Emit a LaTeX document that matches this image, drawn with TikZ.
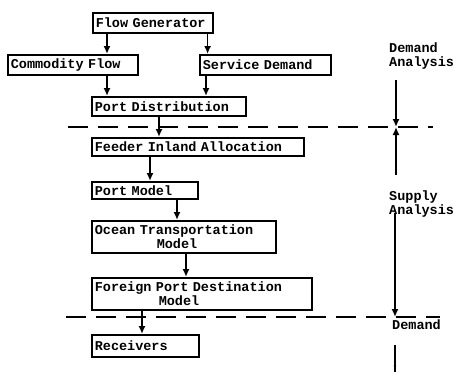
\documentclass[tikz,border=0pt]{standalone}
\usepackage{fontspec}
\usepackage{tikz}
\usetikzlibrary{arrows.meta}
\newfontfamily\monofont{Liberation Mono}

\begin{document}
\begin{tikzpicture}[
  x=1pt, y=-1pt,
  box/.style={
    draw, line width=1.6pt,
    inner xsep=3pt, inner ysep=0pt,
    anchor=north west, align=left,
    font=\monofont\bfseries\fontsize{13.5}{14}\selectfont,
  },
  lbl/.style={anchor=north west, align=left, inner sep=0pt,
    font=\monofont\bfseries\fontsize{13.5}{14}\selectfont},
  arr/.style={line width=1.6pt, -{Latex[length=8pt,width=7pt]}},
  dashline/.style={line width=1.4pt, dash pattern=on 20pt off 10pt},
  ]
  \useasboundingbox (0,0) rectangle (459,381);
  % the model chain
  \node[box, text width=114pt, minimum height=20pt] (gen) at (92,12) {Flow Generator};
  \node[box, text width=124pt, minimum height=20pt] (comm) at (7,54) {Commodity Flow};
  \node[box, text width=125pt, minimum height=20pt] (serv) at (199,54) {Service Demand};
  \node[box, text width=148pt, minimum height=19pt] (dist) at (91,96) {Port Distribution};
  \node[box, text width=206pt, minimum height=18pt] (feed) at (91,137) {Feeder Inland Allocation};
  \node[box, text width=100pt, minimum height=17pt] (port) at (91,181) {Port Model};
  \node[box, text width=178pt, minimum height=32pt] (ocean) at (91,220) {Ocean Transportation\\\hspace*{62pt}Model};
  \node[box, text width=214pt, minimum height=32pt] (foreign) at (91,277) {Foreign Port Destination\\\hspace*{64pt}Model};
  \node[box, text width=101pt, minimum height=22pt] (recv) at (91,334) {Receivers};

  \draw[arr] ([xshift=15]gen.south west) coordinate (g1) -- (g1 |- comm.north);
  \draw[arr] ([xshift=-6]gen.south east) coordinate (g2) -- (g2 |- serv.north);
  \draw[arr] ([xshift=100]comm.south west) coordinate (c1) -- (c1 |- dist.north);
  \draw[arr] ([xshift=7]serv.south west) coordinate (s1) -- (s1 |- dist.north);

  % split lines
  \draw[dashline] (68,127) -- (433,127);
  \draw[dashline] (66,317) -- (440,317);

  \draw[arr] ([xshift=68]dist.south west) coordinate (d1) -- (d1 |- feed.north);
  \draw[arr] ([xshift=59]feed.south west) coordinate (f1) -- (f1 |- port.north);
  \draw[arr] ([xshift=86]port.south west) coordinate (p1) -- (p1 |- ocean.north);
  \draw[arr] ([xshift=95]ocean.south west) coordinate (o1) -- (o1 |- foreign.north);
  \draw[arr] ([xshift=51]foreign.south west) coordinate (r1) -- (r1 |- recv.north);

  % phases on the right
  \node[lbl] (dan) at (389,43) {Demand\\Analysis};
  \node[lbl] (sup) at (389,191) {Supply\\Analysis};
  \node[lbl] (dem) at (392,320) {Demand};
  \coordinate (m1) at (396,127);
  \coordinate (m2) at (395,317);
  \coordinate (a1) at (396,80);
  \coordinate (a2) at (396,175);
  \coordinate (a3) at (395,213);
  \coordinate (a4) at (395,345);
  \coordinate (a5) at (395,372);
  \draw[arr] (a1) -- (m1);
  \draw[arr] (a2) -- (m1);
  \draw[arr] (a3) -- (m2);
  \draw[line width=1.4pt] (a4) -- (a5);
  \fill ([yshift=6]a5) circle (1.3pt);
\end{tikzpicture}
\end{document}
